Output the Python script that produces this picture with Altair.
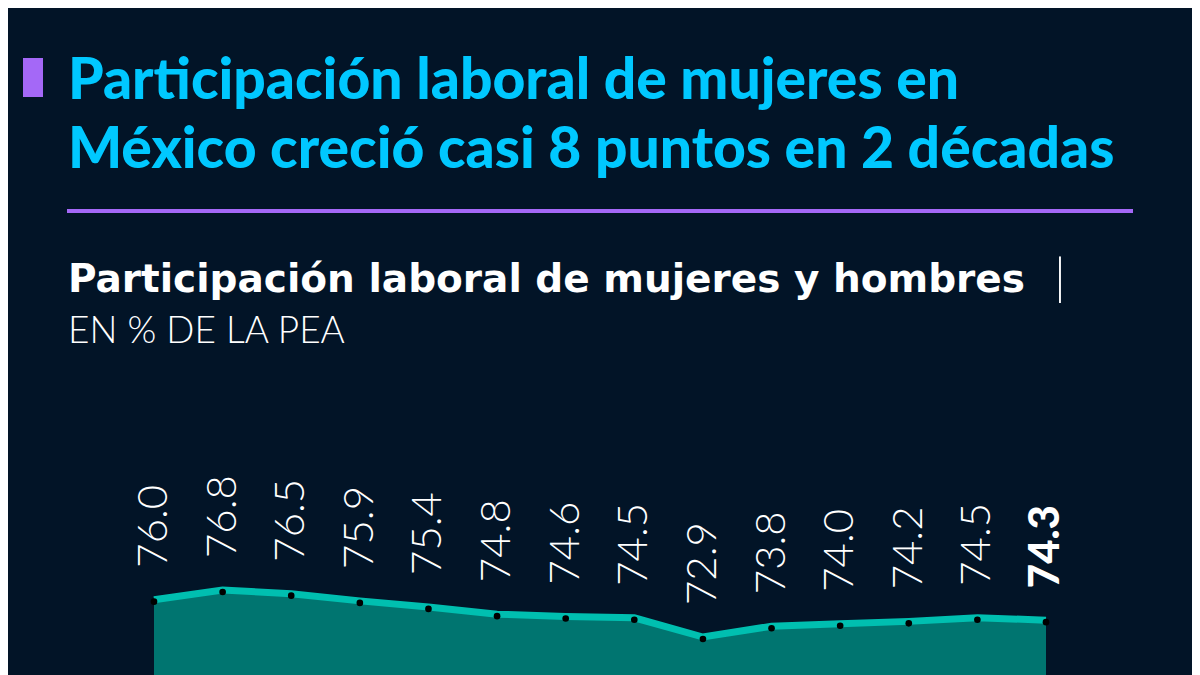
import altair as alt
import pandas as pd

# ---- data ----
years = ["2005", "2007", "2009", "2011", "2013", "2015", "2017", "2019",
         "2020", "2021", "2022", "2023", "2024", "2025"]
values = [76.0, 76.8, 76.5, 75.9, 75.4, 74.8, 74.6, 74.5,
          72.9, 73.8, 74.0, 74.2, 74.5, 74.3]
labels = [f"{v:.1f}" for v in values]
is_last = [False] * (len(values) - 1) + [True]

title_line1 = "Participación laboral de mujeres en"
title_line2 = "México creció casi 8 puntos en 2 décadas"
subtitle = "Participación laboral de mujeres y hombres"
subtitle_sep = "|"
unit_text = "EN % DE LA PEA"

df = pd.DataFrame({"year": years, "value": values, "label": labels, "last": is_last})

BG = "#021427"
CYAN = "#00c8ff"
PURPLE = "#a468f7"
LINE = "#00bfb0"
FILL = "#007570"

W, H = 1184, 667

x_enc = alt.X("year:N", sort=years, axis=None,
              scale=alt.Scale(type="point", padding=0, range=[146, 1038]))
y_scale = alt.Scale(domain=[69.75, 125.1], zero=False, nice=False)
y_enc = alt.Y("value:Q", axis=None, scale=y_scale)

base = alt.Chart(df)

area = base.mark_area(color=FILL, clip=True).encode(x=x_enc, y=y_enc)
line = base.mark_line(color=LINE, strokeWidth=7, clip=True).encode(x=x_enc, y=y_enc)
pts = base.mark_circle(color="black", size=44, opacity=1).encode(
    x=x_enc, y=y_enc, yOffset=alt.value(2))

lab_reg = base.transform_filter("!datum.last").mark_text(
    angle=270, align="left", baseline="middle", dx=32,
    font="Lato", fontSize=42, fontWeight=300, color="white"
).encode(x=x_enc, y=y_enc, text="label:N")

lab_last = base.transform_filter("datum.last").mark_text(
    angle=270, align="left", baseline="middle", dx=32,
    font="Lato", fontSize=42, fontWeight=900, color="white"
).encode(x=x_enc, y=y_enc, text="label:N")


def txt(s, x, y, size, weight, color, font="Lato"):
    return alt.Chart(pd.DataFrame({"t": [s]})).mark_text(
        align="left", baseline="alphabetic", font=font,
        fontSize=size, fontWeight=weight, color=color
    ).encode(x=alt.value(x), y=alt.value(y), text="t:N")


t1 = txt(title_line1, 60, 91, 57, 900, CYAN)
t2 = txt(title_line2, 60, 160, 57, 900, CYAN)
st = txt(subtitle, 60, 284, 39, "bold", "white", font="DejaVu Sans")
sep = txt(subtitle_sep, 1046, 286, 50, 300, "white")
ut = txt(unit_text, 60, 335, 37, 300, "white")

square = alt.Chart(pd.DataFrame({"a": [0]})).mark_rect(color=PURPLE).encode(
    x=alt.value(15), x2=alt.value(35), y=alt.value(50), y2=alt.value(89))
rule = alt.Chart(pd.DataFrame({"a": [0]})).mark_rule(color=PURPLE, strokeWidth=4).encode(
    x=alt.value(59), x2=alt.value(1125), y=alt.value(203))

chart = alt.layer(area, line, pts, lab_reg, lab_last,
                  square, t1, t2, rule, st, sep, ut).properties(
    width=W, height=H,
    autosize=alt.AutoSizeParams(type="none"),
    padding=0,
    background=BG,
).configure_view(stroke=None)

chart.save("out.html", embed_options={"renderer": "svg", "actions": False})
